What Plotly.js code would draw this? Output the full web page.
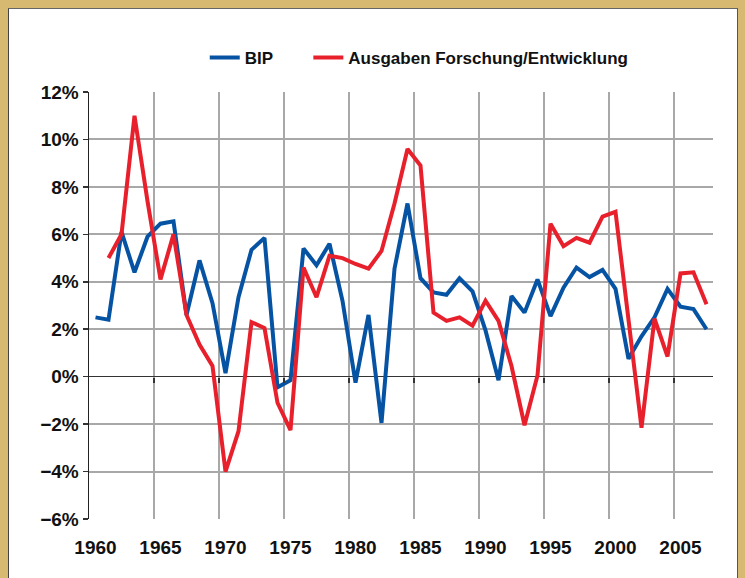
<!DOCTYPE html>
<html>
<head>
<meta charset="utf-8">
<script src="https://cdn.plot.ly/plotly-3.0.1.min.js"></script>
<style>
  html, body { margin: 0; padding: 0; }
  body { width: 745px; height: 578px; background: #D8B972; position: relative; overflow: hidden; }
  #frame { position: absolute; left: 8px; top: 8px; width: 728px; height: 575px; background: #ffffff; border-left: 1px solid #444; border-top: 1px solid #666; border-right: 1px solid #555; }
  #chart { position: absolute; left: 0; top: 0; width: 728px; height: 570px; }
  #chart text { font-stretch: condensed !important; }
</style>
</head>
<body>
<div id="frame"><div id="chart"></div></div>
<script>
const years = [1960,1961,1962,1963,1964,1965,1966,1967,1968,1969,1970,1971,1972,1973,1974,1975,1976,1977,1978,1979,1980,1981,1982,1983,1984,1985,1986,1987,1988,1989,1990,1991,1992,1993,1994,1995,1996,1997,1998,1999,2000,2001,2002,2003,2004,2005,2006,2007];

const bip = [2.5,2.4,6.1,4.4,5.9,6.45,6.55,2.6,4.9,3.1,0.15,3.35,5.35,5.85,-0.45,-0.15,5.4,4.7,5.6,3.2,-0.25,2.6,-1.95,4.55,7.3,4.15,3.55,3.45,4.15,3.6,1.95,-0.15,3.4,2.7,4.1,2.55,3.75,4.6,4.2,4.5,3.7,0.75,1.7,2.5,3.7,2.95,2.85,2.0];

const fue = [null,5.0,6.0,11.0,7.4,4.1,6.0,2.6,1.35,0.45,-4.0,-2.3,2.3,2.05,-1.1,-2.25,4.6,3.35,5.1,5.0,4.75,4.55,5.3,7.3,9.6,8.9,2.7,2.35,2.5,2.15,3.2,2.35,0.45,-2.05,0.05,6.45,5.5,5.85,5.65,6.75,6.95,2.4,-2.15,2.45,0.85,4.35,4.4,3.05];

const seriesNames = ["BIP", "Ausgaben Forschung/Entwicklung"];
const yTicks = [-6,-4,-2,0,2,4,6,8,10,12];
const xTickLabels = [1960,1965,1970,1975,1980,1985,1990,1995,2000,2005];
const xGridPos = [1964.5,1969.5,1974.5,1979.5,1984.5,1989.5,1994.5,1999.5,2004.5];

const FONT = '"Liberation Sans Narrow", "Liberation Sans", Arial, sans-serif';

const traces = [
  { x: years, y: bip, name: seriesNames[0], type: 'scatter', mode: 'lines',
    line: { color: '#0653A4', width: 4 }, hoverinfo: 'skip', legend: 'legend' },
  { x: years, y: fue, name: seriesNames[1], type: 'scatter', mode: 'lines',
    line: { color: '#E8202C', width: 4 }, connectgaps: false, hoverinfo: 'skip', legend: 'legend2' },
  { x: [years[0]], y: [null], xaxis: 'x2', showlegend: false, hoverinfo: 'skip', mode: 'lines' }
];

const yLabels = yTicks.map(v => (v < 0 ? '\u2212' + Math.abs(v) : String(v)) + '%');

const legFont = { family: FONT, size: 17, color: '#111111', weight: 'bold' };
const tickFont = { family: FONT, size: 19, color: '#111111', weight: 'bold' };

const layout = {
  width: 728, height: 570,
  margin: { l: 80, r: 24, t: 83, b: 60 },
  paper_bgcolor: '#ffffff',
  plot_bgcolor: '#ffffff',
  font: { family: FONT, size: 19, color: '#111111' },
  showlegend: true,
  legend: {
    orientation: 'h', x: 0.1855, xanchor: 'left', y: 1.08, yanchor: 'middle',
    font: legFont, bgcolor: 'rgba(0,0,0,0)', itemwidth: 30
  },
  legend2: {
    orientation: 'h', x: 0.3515, xanchor: 'left', y: 1.08, yanchor: 'middle',
    font: legFont, bgcolor: 'rgba(0,0,0,0)', itemwidth: 30
  },
  xaxis: {
    range: [1959.5, 2007.5],
    tickmode: 'array', tickvals: xTickLabels, ticktext: xTickLabels.map(String),
    showgrid: false, zeroline: false, showline: false, ticks: '',
    ticklabelstandoff: 15,
    tickfont: tickFont,
    fixedrange: true
  },
  xaxis2: {
    overlaying: 'x', matches: 'x', range: [1959.5, 2007.5],
    anchor: 'free', position: 1/3,
    tickmode: 'array', tickvals: xGridPos, showticklabels: false,
    showgrid: true, gridcolor: '#A8A8A8', gridwidth: 2,
    ticks: 'outside', ticklen: 5, tickwidth: 1.5, tickcolor: '#333333',
    zeroline: false, showline: false, fixedrange: true
  },
  yaxis: {
    range: [-6, 12], tickmode: 'array', tickvals: yTicks, ticktext: yLabels,
    showgrid: true, gridcolor: '#A8A8A8', gridwidth: 2,
    zeroline: true, zerolinecolor: '#333333', zerolinewidth: 1.5,
    showline: true, linecolor: '#222222', linewidth: 1.5,
    ticks: 'outside', ticklen: 5, tickwidth: 1.5, tickcolor: '#333333',
    tickfont: tickFont,
    fixedrange: true
  }
};

Plotly.newPlot('chart', traces, layout, { displayModeBar: false, staticPlot: true });
</script>
</body>
</html>
